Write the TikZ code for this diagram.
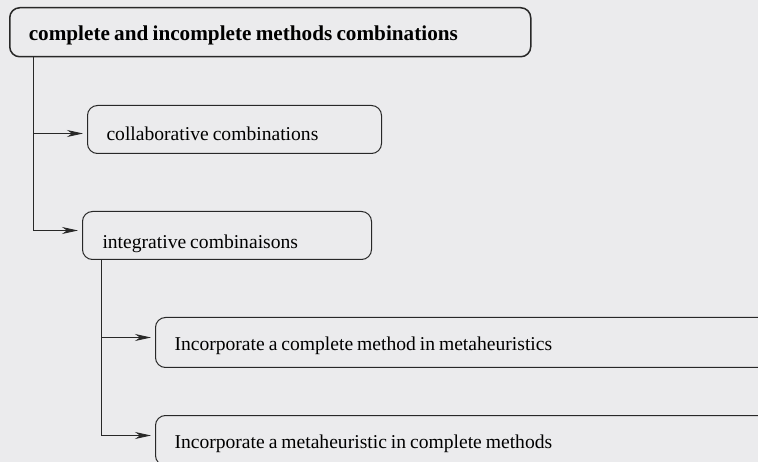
\documentclass[tikz,border=0pt]{standalone}
\usepackage{fontspec}
\setmainfont{Liberation Serif}
\usetikzlibrary{arrows.meta}
\usetikzlibrary{positioning}

\definecolor{bggray}{RGB}{235,235,237}
\definecolor{linegray}{RGB}{40,40,40}

\begin{document}
\begin{tikzpicture}[x=1pt,y=-1pt,font=\fontsize{19.6}{22}\selectfont]
		\useasboundingbox (0,0) rectangle (758,462);
		\clip (0,0) rectangle (758,462);
		\fill[bggray] (0,0) rectangle (758,462);
		\tikzstyle{BoxStyle}=[draw=linegray,line width=1pt,rounded corners=10pt,align=left,
			anchor=north west,inner xsep=19pt,inner ysep=2pt,text depth=4pt,
			execute at begin node={\spaceskip=0.2em\relax}]
		\tikzstyle{LinkStyle}=[draw=linegray,line width=0.9pt,shorten >=4pt,
			-{Stealth[length=16pt,width=7pt,inset=5pt]}]
		\node[BoxStyle,line width=1.5pt,minimum width=521pt,minimum height=49pt,text width=483pt,text height=21pt,
			font=\fontsize{21.2}{24}\selectfont\bfseries] (main) at (9,7)
			{complete and incomplete methods combinations};
		\node[BoxStyle,minimum width=294pt,minimum height=48pt,text width=256pt,text height=26pt] (collab) at (87,105)
			{collaborative combinations};
		\node[BoxStyle,minimum width=289pt,minimum height=48pt,text width=249pt,
			inner xsep=20pt,text height=30pt] (integ) at (82,211)
			{integrative combinaisons};
		\node[BoxStyle,minimum width=620pt,minimum height=50pt,text width=582pt,text height=20pt] (cmeta) at (155,317)
			{Incorporate a complete method in metaheuristics};
		\node[BoxStyle,minimum width=620pt,minimum height=50pt,text width=582pt,text height=20pt] (metac) at (155,415)
			{Incorporate a metaheuristic in complete methods};
		\draw[LinkStyle] ([xshift=24pt]main.south west) |- ([yshift=-4pt]collab.west);
		\draw[LinkStyle] ([xshift=24pt]main.south west) |- ([yshift=5pt]integ.west);
		\draw[LinkStyle] ([xshift=19pt]integ.south west) |- ([yshift=5pt]cmeta.west);
		\draw[LinkStyle] ([xshift=19pt]integ.south west) |- ([yshift=5pt]metac.west);
\end{tikzpicture}
\end{document}
